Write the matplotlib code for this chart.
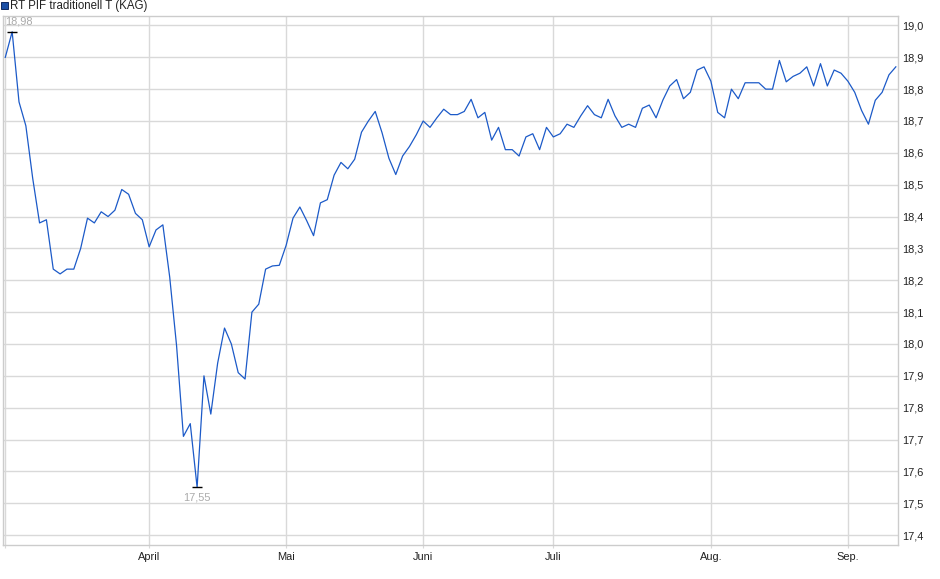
import matplotlib
matplotlib.use("Agg")
import matplotlib.pyplot as plt
from matplotlib.patches import Rectangle
import numpy as np

plt.rcParams['font.family'] = ['Liberation Sans', 'DejaVu Sans']

title = "RT PIF traditionell T (KAG)"

# daily NAV, one value per trading day (03.03. - 09.09.)
values = [
    18.90, 18.98, 18.76, 18.685, 18.52, 18.38, 18.39, 18.235, 18.22, 18.235,
    18.235, 18.30, 18.395, 18.38, 18.415, 18.40, 18.42, 18.485, 18.47, 18.41,
    18.39, 18.305, 18.358, 18.374, 18.21, 17.995, 17.71, 17.75, 17.55, 17.90,
    17.78, 17.94, 18.05, 18.00, 17.91, 17.89, 18.10, 18.125, 18.235, 18.245,
    18.247, 18.31, 18.395, 18.43, 18.387, 18.34, 18.443, 18.453, 18.53, 18.57,
    18.55, 18.58, 18.665, 18.70, 18.73, 18.663, 18.583, 18.532, 18.59, 18.62,
    18.657, 18.70, 18.68, 18.71, 18.737, 18.72, 18.72, 18.73, 18.768, 18.71,
    18.727, 18.64, 18.68, 18.61, 18.61, 18.59, 18.65, 18.66, 18.61, 18.68,
    18.65, 18.66, 18.69, 18.68, 18.716, 18.748, 18.72, 18.71, 18.768, 18.716,
    18.68, 18.69, 18.68, 18.74, 18.75, 18.71, 18.766, 18.81, 18.83, 18.77,
    18.79, 18.86, 18.87, 18.825, 18.727, 18.71, 18.80, 18.77, 18.82, 18.82,
    18.82, 18.80, 18.80, 18.89, 18.823, 18.84, 18.85, 18.87, 18.81, 18.88,
    18.81, 18.86, 18.85, 18.825, 18.79, 18.733, 18.69, 18.765, 18.79, 18.845,
    18.87,
]

# first trading day of each month (index into values)
month_idx = [0, 21, 41, 61, 80, 103, 123]
month_labels = ["", "April", "Mai", "Juni", "Juli", "Aug.", "Sep."]

y_ticks = [17.4, 17.5, 17.6, 17.7, 17.8, 17.9, 18.0, 18.1, 18.2,
           18.3, 18.4, 18.5, 18.6, 18.7, 18.8, 18.9, 19.0]

line_col = '#1c5ac8'
grid_col = '#d9d9d9'
label_col = '#aaaaaa'

W, H = 940, 579
fig = plt.figure(figsize=(W / 100, H / 100), dpi=100)
ax = fig.add_axes([2.7 / W, (H - 545) / H, (898.3 - 2.7) / W, (545 - 16) / H])

x = np.arange(len(values))
ax.plot(x, values, color=line_col, lw=0.9, zorder=3)

ax.set_xlim(-0.38, 130.36)
ax.set_ylim(17.369, 19.0296)

ax.set_xticks(month_idx)
ax.set_xticklabels(month_labels)
ax.set_yticks(y_ticks)
ax.set_yticklabels([f"{v:.1f}".replace('.', ',') for v in y_ticks])
ax.yaxis.tick_right()
ax.tick_params(axis='y', length=0, pad=3, labelsize=7.9, colors='#222222')
ax.tick_params(axis='x', length=2, color=grid_col, pad=3, labelsize=7.9,
               colors='#222222')
ax.grid(True, color=grid_col, lw=1, zorder=0)

for s in ax.spines.values():
    s.set_color('#cccccc')
    s.set_linewidth(1)

# high / low markers
hi = int(np.argmax(values))
lo = int(np.argmin(values))
for i, dy in [(hi, 10), (lo, -10)]:
    ax.plot(i, values[i], marker='_', ms=6.5, mew=1, color='black', zorder=4)
    ax.annotate(f"{values[i]:.2f}".replace('.', ','), (i, values[i]),
                xytext=(7 if i == hi else 0, dy), textcoords='offset pixels',
                ha='center', va='center', fontsize=7.9, color=label_col)

# legend box at the top
fig.patches.append(Rectangle((1 / W, (H - 8.5) / H), 6.5 / W, 6.5 / H,
                             transform=fig.transFigure, facecolor='#1a4fa6',
                             edgecolor='#102a60', lw=0.7))
fig.text(10.5 / W, (H - 5.5) / H, title, ha='left', va='center',
         fontsize=8.3, color='#222222')

fig.savefig("out.png", dpi=100)
